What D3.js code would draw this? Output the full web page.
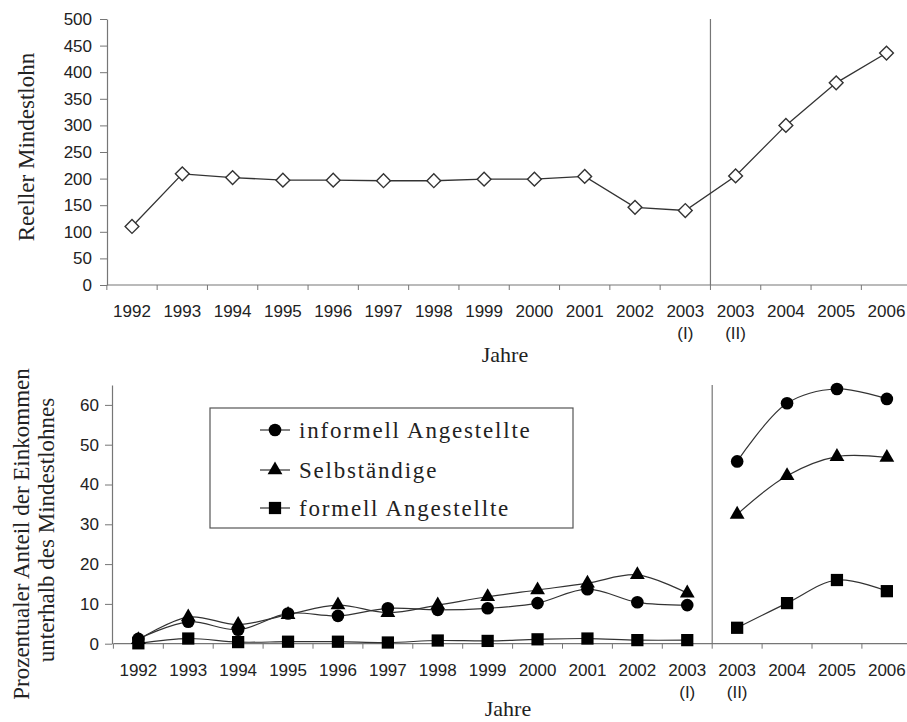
<!DOCTYPE html>
<html><head><meta charset="utf-8">
<script src="https://cdn.jsdelivr.net/npm/d3@7/dist/d3.min.js"></script>
<style>
body{margin:0;background:#fff;}
svg{display:block;}
</style></head>
<body>
<script>
const categories = ["1992","1993","1994","1995","1996","1997","1998","1999","2000","2001","2002","2003 (I)","2003 (II)","2004","2005","2006"];
const tickLabels = [["1992"],["1993"],["1994"],["1995"],["1996"],["1997"],["1998"],["1999"],["2000"],["2001"],["2002"],["2003","(I)"],["2003","(II)"],["2004"],["2005"],["2006"]];
const mindestlohn = [110,209,202,197,197,196,196,199,199,204,146,140,205,300,380,436];
const informell = [1.2,5.5,3.5,7.6,7.0,8.9,8.5,8.9,10.2,13.7,10.4,9.7,45.8,60.4,64.0,61.5];
const selbst = [1.0,6.7,4.8,7.3,9.7,7.8,9.7,11.8,13.5,15.2,17.3,12.7,32.5,42.2,47.0,46.8];
const formell = [0.1,1.3,0.4,0.5,0.5,0.3,0.8,0.7,1.1,1.3,0.9,0.9,4.0,10.2,16.0,13.2];
const topTicks = [0,50,100,150,200,250,300,350,400,450,500];
const bottomTicks = [0,10,20,30,40,50,60];
const seriesNames = ["informell Angestellte","Selbständige","formell Angestellte"];
const breakCat = "2003 (II)";

const SANS="'Liberation Sans', Arial, sans-serif";
const SERIF="'Liberation Serif', 'Times New Roman', Tinos, serif";
const W=907,H=722;
const svg=d3.select("body").append("svg").attr("width",W).attr("height",H);
const axisCol="#767676", lineCol="#333";

function serifText(g,size){
  return g.append("text").style("font-family",SERIF).style("font-size",size+"px").style("fill","#222");
}
function styleTicks(sel){
  sel.selectAll("text").style("font-family",SANS).style("font-size","17px").style("fill","#222");
}

function drawXAxis(g, x, y0){
  const bw=x.bandwidth();
  const r=x.range();
  g.append("line").attr("x1",r[0]).attr("x2",r[1]).attr("y1",y0).attr("y2",y0).attr("stroke",axisCol).attr("stroke-width",1.2);
  const edges=categories.map(c=>x(c)).concat([x(categories[categories.length-1])+bw]);
  g.selectAll(null).data(edges).enter().append("line")
    .attr("x1",d=>d).attr("x2",d=>d).attr("y1",y0).attr("y2",y0+5).attr("stroke",axisCol);
  const t=g.selectAll(null).data(categories).enter().append("g")
    .attr("transform",d=>`translate(${x(d)+bw/2},${y0})`);
  t.append("text").attr("text-anchor","middle").each(function(d,i){
    const el=d3.select(this);
    tickLabels[i].forEach((s,j)=>el.append("tspan").attr("x",0).attr("y",j===0?32:54).text(s));
  });
  styleTicks(t);
}

// ---------- TOP CHART ----------
const xT=d3.scaleBand().domain(categories).range([106.85,106.85+16*50.3]);
const yT=d3.scaleLinear().domain([0,500]).range([285,19]);
const gT=svg.append("g");
const yAxT=gT.append("g").attr("transform","translate(107,0)")
  .call(d3.axisLeft(yT).tickValues(topTicks).tickSize(7).tickSizeOuter(0).tickPadding(8));
yAxT.select(".domain").attr("stroke",axisCol).attr("stroke-width",1.2);
yAxT.selectAll(".tick line").attr("stroke",axisCol);
styleTicks(yAxT);
drawXAxis(gT,xT,285);
gT.append("line").attr("x1",xT(breakCat)).attr("x2",xT(breakCat)).attr("y1",yT(500)).attr("y2",yT(0)).attr("stroke",axisCol).attr("stroke-width",1.2);
const dataT=categories.map((c,i)=>({c,v:mindestlohn[i]}));
gT.append("path").datum(dataT).attr("fill","none").attr("stroke",lineCol).attr("stroke-width",1.3)
  .attr("d",d3.line().x(d=>xT(d.c)+xT.bandwidth()/2).y(d=>yT(d.v)));
gT.selectAll(null).data(dataT).enter().append("path")
  .attr("d",d3.symbol(d3.symbolSquare,95)())
  .attr("transform",d=>`translate(${xT(d.c)+xT.bandwidth()/2},${yT(d.v)}) rotate(45)`)
  .attr("fill","#fff").attr("stroke",lineCol).attr("stroke-width",1.4);
serifText(gT,23).attr("text-anchor","middle")
  .attr("transform","translate(34,147) rotate(-90)").text("Reeller Mindestlohn");
serifText(gT,22).attr("text-anchor","middle").attr("x",505).attr("y",362).text("Jahre");

// ---------- BOTTOM CHART ----------
const xB=d3.scaleBand().domain(categories).range([113.4,113.4+16*49.9]);
const yB=d3.scaleLinear().domain([0,65]).range([643.7,385]);
const gB=svg.append("g");
const yAxB=gB.append("g").attr("transform","translate(112,0)")
  .call(d3.axisLeft(yB).tickValues(bottomTicks).tickSize(7).tickSizeOuter(0).tickPadding(6));
yAxB.select(".domain").attr("stroke",axisCol).attr("stroke-width",1.2);
yAxB.selectAll(".tick line").attr("stroke",axisCol);
styleTicks(yAxB);
drawXAxis(gB,xB,643.7);
gB.append("line").attr("x1",xB(breakCat)).attr("x2",xB(breakCat)).attr("y1",yB(65)).attr("y2",yB(0)).attr("stroke",axisCol).attr("stroke-width",1.2);

const series=[
  {name:seriesNames[0],vals:informell,sym:d3.symbolCircle,size:125},
  {name:seriesNames[1],vals:selbst,sym:d3.symbolTriangle,size:95},
  {name:seriesNames[2],vals:formell,sym:d3.symbolSquare,size:150}
];
const bi=categories.indexOf(breakCat);
const lineB=d3.line().x(d=>xB(d.c)+xB.bandwidth()/2).y(d=>yB(d.v)).curve(d3.curveCatmullRom.alpha(0.5));
series.forEach(s=>{
  const pts=categories.map((c,i)=>({c,v:s.vals[i]}));
  [pts.slice(0,bi),pts.slice(bi)].forEach(seg=>{
    gB.append("path").datum(seg).attr("fill","none").attr("stroke",lineCol).attr("stroke-width",1.2).attr("d",lineB);
  });
});
series.forEach(s=>{
  const pts=categories.map((c,i)=>({c,v:s.vals[i]}));
  gB.selectAll(null).data(pts).enter().append("path")
    .attr("d",d3.symbol(s.sym,s.size)())
    .attr("transform",d=>`translate(${xB(d.c)+xB.bandwidth()/2},${yB(d.v)})`)
    .attr("fill","#000");
});
// legend
const lg=gB.append("g");
lg.append("rect").attr("x",210).attr("y",408).attr("width",363).attr("height",120).attr("fill","#fff").attr("stroke","#555").attr("stroke-width",1.2);
series.forEach((s,i)=>{
  const y=[430,470,508][i];
  lg.append("line").attr("x1",260).attr("x2",290).attr("y1",y).attr("y2",y).attr("stroke",lineCol).attr("stroke-width",1.2);
  lg.append("path").attr("d",d3.symbol(s.sym,s.size)()).attr("transform",`translate(275,${y})`).attr("fill","#000");
  serifText(lg,23).style("letter-spacing","1.8px").attr("x",299).attr("y",y+8).text(s.name);
});
serifText(gB,23).attr("text-anchor","middle")
  .attr("transform","translate(29,534) rotate(-90)").text("Prozentualer Anteil der Einkommen");
serifText(gB,23).attr("text-anchor","middle")
  .attr("transform","translate(54,530) rotate(-90)").text("unterhalb des Mindestlohnes");
serifText(gB,22).attr("text-anchor","middle").attr("x",508).attr("y",716).text("Jahre");
</script>
</body></html>
